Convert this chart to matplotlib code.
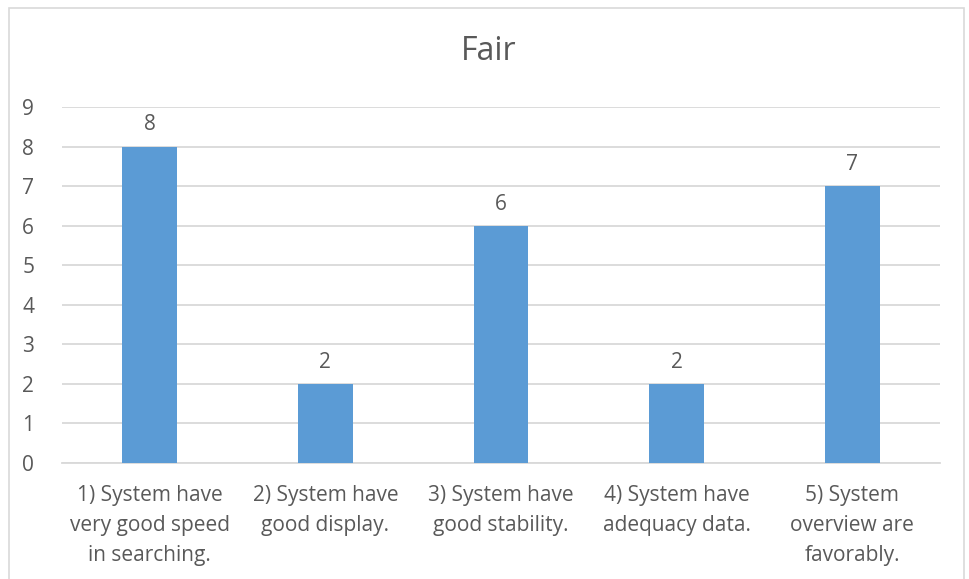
import matplotlib.pyplot as plt
from matplotlib.patches import Rectangle

# survey answers counted as "Fair"
categories = [
    "1) System have\nvery good speed\nin searching.",
    "2) System have\ngood display.",
    "3) System have\ngood stability.",
    "4) System have\nadequacy data.",
    "5) System\noverview are\nfavorably.",
]
counts = [8, 2, 6, 2, 7]
yticks = list(range(0, 10))

W, H = 970, 579
fig = plt.figure(figsize=(W / 100, H / 100), dpi=100)
plt.rcParams['font.family'] = ['Open Sans', 'DejaVu Sans']
text_color = "#595959"
grid_color = "#D9D9D9"

# outer chart frame (bottom edge runs off the image)
fig.patches.append(Rectangle((9 / W, -0.05), (964 - 9) / W, 1.05 - 8 / H,
                             transform=fig.transFigure, fill=False,
                             edgecolor=grid_color, linewidth=1.2))

ax = fig.add_axes([62 / W, 1 - 463 / H, (940 - 62) / W, (463 - 107) / H])
x = range(len(categories))
bars = ax.bar(x, counts, width=0.313, color="#5B9BD5", zorder=3)

for b, v in zip(bars, counts):
    ax.annotate(str(v), (b.get_x() + b.get_width() / 2, v),
                xytext=(0, 8), textcoords="offset points",
                ha="center", va="bottom", fontsize=15, color=text_color)

ax.set_xlim(-0.5, len(categories) - 0.5)
ax.set_ylim(0, 9)
ax.set_yticks(yticks)
ax.set_xticks(list(x))
ax.set_xticklabels(categories, fontsize=15, color=text_color, linespacing=1.57)
ax.tick_params(axis="y", labelsize=15, labelcolor=text_color, length=0, pad=20)
ax.tick_params(axis="x", length=0, pad=16)
ax.grid(axis="y", color=grid_color, linewidth=1.3, zorder=0)
for s in ["top", "right", "left"]:
    ax.spines[s].set_visible(False)
ax.spines["bottom"].set_color(grid_color)
ax.spines["bottom"].set_linewidth(1.3)

fig.text(489 / W, 1 - 52 / H, "Fair", ha="center", va="center",
         fontsize=23, color=text_color)

fig.savefig("out.png", dpi=100)
